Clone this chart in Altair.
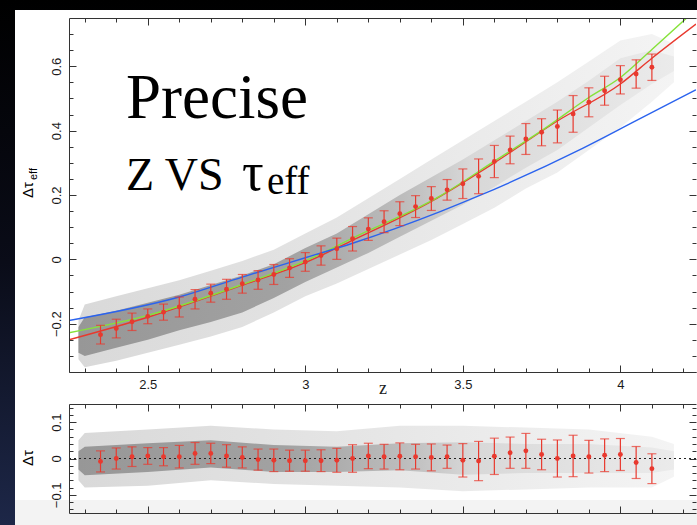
import altair as alt
import pandas as pd

# ---------------- data ----------------
bin_z = [2.35, 2.40, 2.45, 2.50, 2.55, 2.60, 2.65, 2.70, 2.75, 2.80, 2.85, 2.90,
         2.95, 3.00, 3.05, 3.10, 3.15, 3.20, 3.25, 3.30, 3.35, 3.40, 3.45, 3.50,
         3.55, 3.60, 3.65, 3.70, 3.75, 3.80, 3.85, 3.90, 3.95, 4.00, 4.05, 4.10]
bin_tau = [-0.234, -0.215, -0.194, -0.177, -0.164, -0.148, -0.124, -0.105, -0.093,
           -0.076, -0.064, -0.047, -0.027, -0.008, 0.012, 0.033, 0.064, 0.094,
           0.117, 0.142, 0.164, 0.189, 0.216, 0.235, 0.258, 0.304, 0.340, 0.374,
           0.395, 0.413, 0.452, 0.488, 0.524, 0.558, 0.576, 0.597]
bin_err = [0.029, 0.029, 0.027, 0.023, 0.025, 0.031, 0.030, 0.028, 0.031, 0.029,
           0.029, 0.031, 0.029, 0.029, 0.030, 0.033, 0.038, 0.035, 0.034, 0.037,
           0.034, 0.037, 0.032, 0.046, 0.054, 0.050, 0.043, 0.048, 0.042, 0.051,
           0.057, 0.045, 0.045, 0.044, 0.044, 0.041]
res_tau = [-0.008, 0.000, 0.005, 0.007, 0.005, 0.005, 0.014, 0.014, 0.007, 0.003,
           -0.003, -0.005, -0.006, -0.006, -0.006, -0.005, 0.000, 0.007, 0.005,
           0.006, 0.005, 0.003, 0.005, -0.005, -0.007, 0.006, 0.016, 0.021, 0.011,
           0.000, 0.007, 0.005, 0.009, 0.011, -0.011, -0.028]

red_z = [2.25, 2.50, 2.80, 3.00, 3.15, 3.40, 3.60, 3.80, 4.00, 4.10, 4.24]
red_tau = [-0.250, -0.180, -0.080, -0.010, 0.059, 0.180, 0.300, 0.430, 0.545, 0.625, 0.731]
green_z = [2.25, 2.50, 2.80, 3.00, 3.15, 3.43, 3.60, 3.75, 3.90, 4.00, 4.10, 4.21]
green_tau = [-0.228, -0.174, -0.078, -0.005, 0.066, 0.198, 0.305, 0.400, 0.503, 0.565, 0.652, 0.750]
blue_z = [2.25, 2.60, 2.80, 3.00, 3.15, 3.43, 3.55, 3.88, 4.05, 4.24]
blue_tau = [-0.190, -0.117, -0.055, 0.005, 0.050, 0.149, 0.197, 0.345, 0.431, 0.527]

# extent of the cloud of individual measurements (dense core and sparse envelope)
cloud_z = [2.28, 2.30, 2.40, 2.50, 2.60, 2.70, 2.80, 2.90, 3.00, 3.10, 3.20, 3.30,
           3.40, 3.50, 3.60, 3.70, 3.80, 3.90, 4.00, 4.10, 4.17]
core_lo = [-0.29, -0.30, -0.275, -0.25, -0.22, -0.195, -0.165, -0.12, -0.07, -0.025,
           0.02, 0.07, 0.12, 0.17, 0.225, 0.285, 0.34, 0.41, 0.48, 0.545, 0.585]
core_hi = [-0.21, -0.18, -0.16, -0.135, -0.11, -0.08, -0.05, -0.015, 0.035, 0.08,
           0.14, 0.20, 0.255, 0.31, 0.37, 0.43, 0.49, 0.555, 0.625, 0.65, 0.63]
env_lo = [-0.31, -0.335, -0.315, -0.29, -0.265, -0.24, -0.21, -0.165, -0.115, -0.075,
          -0.03, 0.015, 0.06, 0.11, 0.16, 0.22, 0.27, 0.34, 0.41, 0.49, 0.55]
env_hi = [-0.19, -0.14, -0.115, -0.09, -0.065, -0.035, -0.005, 0.03, 0.08, 0.13,
          0.19, 0.25, 0.31, 0.37, 0.43, 0.49, 0.55, 0.615, 0.68, 0.70, 0.67]

rcloud_z = [2.28, 2.30, 2.50, 2.70, 2.90, 3.10, 3.30, 3.50, 3.70, 3.90, 4.10, 4.17]
rcore_lo = [-0.03, -0.046, -0.037, -0.025, -0.037, -0.037, -0.032, -0.045, -0.04, -0.04, -0.04, -0.03]
rcore_hi = [0.02, 0.032, 0.042, 0.05, 0.037, 0.032, 0.042, 0.045, 0.04, 0.04, 0.03, 0.02]
renv_lo = [-0.06, -0.08, -0.075, -0.06, -0.07, -0.075, -0.08, -0.09, -0.085, -0.08, -0.08, -0.05]
renv_hi = [0.05, 0.07, 0.08, 0.09, 0.08, 0.075, 0.09, 0.09, 0.085, 0.08, 0.06, 0.04]

# tick positions
x_major = [2.5, 3.0, 3.5, 4.0]
x_minor = [2.3, 2.4, 2.6, 2.7, 2.8, 2.9, 3.1, 3.2, 3.3, 3.4, 3.6, 3.7, 3.8, 3.9, 4.1, 4.2]
y1_major = [-0.2, 0.0, 0.2, 0.4, 0.6]
y1_minor = [-0.35, -0.3, -0.25, -0.15, -0.1, -0.05, 0.05, 0.1, 0.15, 0.25, 0.3, 0.35,
            0.45, 0.5, 0.55, 0.65, 0.7]
y2_major = [-0.1, 0.0, 0.1]
y2_minor = [-0.14, -0.12, -0.08, -0.06, -0.04, -0.02, 0.02, 0.04, 0.06, 0.08, 0.12, 0.14]

# ---------------- layout / style ----------------
W, H1, H2 = 627, 354, 109
XD, YD1, YD2 = [2.25, 4.24], [-0.35, 0.75], [-0.15, 0.15]
RED, GREEN, BLUE = "#e8392e", "#86e23a", "#2b63ee"
AX = "#333333"
LABEL_FONT = "Liberation Sans"

xs = alt.Scale(domain=XD, nice=False, zero=False)
ys1 = alt.Scale(domain=YD1, nice=False, zero=False)
ys2 = alt.Scale(domain=YD2, nice=False, zero=False)


def tick_axis(orient, values, size, offset, domain=False):
    return alt.Axis(orient=orient, values=values, tickSize=size, offset=offset,
                    domain=domain, labels=False, grid=False, title=None,
                    tickColor=AX, domainColor=AX, tickWidth=1, domainWidth=1, zindex=3)


def label_axis(orient, values, pad, angle=0, **kw):
    return alt.Axis(orient=orient, values=values, ticks=False, tickSize=0, domain=True,
                    domainColor=AX, domainWidth=1, grid=False, labelPadding=pad,
                    labelFont=LABEL_FONT, labelFontSize=13, labelColor="#1a1a1a",
                    labelAngle=angle, format="~g", zindex=3, **kw)


one = pd.DataFrame({"k": [0]})
bins = pd.DataFrame({"z": bin_z, "tau": bin_tau, "err": bin_err, "res": res_tau})
bins["lo"] = bins["tau"] - bins["err"]
bins["hi"] = bins["tau"] + bins["err"]
bins["rlo"] = bins["res"] - bins["err"]
bins["rhi"] = bins["res"] + bins["err"]
cloud = pd.DataFrame({"z": cloud_z, "clo": core_lo, "chi": core_hi, "elo": env_lo, "ehi": env_hi})
rcloud = pd.DataFrame({"z": rcloud_z, "clo": rcore_lo, "chi": rcore_hi, "elo": renv_lo, "ehi": renv_hi})

core_grad = alt.Gradient(gradient="linear", x1=0, x2=1, y1=0, y2=0, stops=[
    alt.GradientStop(color="#979797", offset=0.0),
    alt.GradientStop(color="#a2a2a2", offset=0.35),
    alt.GradientStop(color="#bdbdbd", offset=0.55),
    alt.GradientStop(color="#d8d8d8", offset=0.66),
    alt.GradientStop(color="#ebebeb", offset=1.0)])
env_grad = alt.Gradient(gradient="linear", x1=0, x2=1, y1=0, y2=0, stops=[
    alt.GradientStop(color="#d9d9d9", offset=0.0),
    alt.GradientStop(color="#e6e6e6", offset=0.5),
    alt.GradientStop(color="#f4f4f4", offset=1.0)])
bg_grad = alt.Gradient(gradient="linear", x1=0, x2=0, y1=0, y2=1, stops=[
    alt.GradientStop(color="#000000", offset=0.0),
    alt.GradientStop(color="#0a0c18", offset=0.5),
    alt.GradientStop(color="#1d2748", offset=1.0)])

# ---------------- main panel ----------------
bg = alt.Chart(one).mark_rect(fill=bg_grad).encode(
    x=alt.value(-69), x2=alt.value(628), y=alt.value(-18), y2=alt.value(507))
panel = alt.Chart(one).mark_rect(fill="#ffffff").encode(
    x=alt.value(-54), x2=alt.value(628), y=alt.value(-8), y2=alt.value(482))
strip = alt.Chart(one).mark_rect(fill="#f3f3f3").encode(
    x=alt.value(-54), x2=alt.value(628), y=alt.value(482), y2=alt.value(507))

env = alt.Chart(cloud).mark_area(color=env_grad, interpolate="linear").encode(
    x=alt.X("z:Q", scale=xs, axis=label_axis("bottom", x_major, 6, title="z",
            titleFont="Liberation Serif", titleFontSize=18, titleFontWeight="normal",
            titleColor="#222222", titleY=21, titleBaseline="alphabetic")),
    y=alt.Y("elo:Q", scale=ys1, axis=label_axis("left", y1_major, 9, angle=270,
            labelBaseline="alphabetic", labelAlign="center", title=None)),
    y2="ehi:Q")
core = alt.Chart(cloud).mark_area(color=core_grad, interpolate="linear").encode(
    x=alt.X("z:Q", scale=xs, axis=tick_axis("top", x_major, 7, -H1)),
    y=alt.Y("clo:Q", scale=ys1, axis=tick_axis("right", y1_major, 7, -W)),
    y2="chi:Q")
red_line = alt.Chart(pd.DataFrame({"z": red_z, "t": red_tau})).mark_line(
    color=RED, strokeWidth=1.4, interpolate="monotone", clip=True).encode(
    x=alt.X("z:Q", scale=xs, axis=tick_axis("top", x_minor, 4, -H1)),
    y=alt.Y("t:Q", scale=ys1, axis=tick_axis("right", y1_minor, 4, -W)))
green_line = alt.Chart(pd.DataFrame({"z": green_z, "t": green_tau})).mark_line(
    color=GREEN, strokeWidth=1.4, interpolate="monotone", clip=True).encode(
    x=alt.X("z:Q", scale=xs, axis=tick_axis("bottom", x_major, 7, -H1, domain=True)),
    y=alt.Y("t:Q", scale=ys1, axis=tick_axis("left", y1_major, 7, -W)))
blue_line = alt.Chart(pd.DataFrame({"z": blue_z, "t": blue_tau})).mark_line(
    color=BLUE, strokeWidth=1.4, interpolate="monotone", clip=True).encode(
    x=alt.X("z:Q", scale=xs, axis=tick_axis("bottom", x_minor, 4, -H1)),
    y=alt.Y("t:Q", scale=ys1, axis=tick_axis("left", y1_minor, 4, -W)))

base = alt.Chart(bins)
bars = base.mark_rule(color=RED, strokeWidth=1.2).encode(
    x=alt.X("z:Q", scale=xs, axis=None), y=alt.Y("lo:Q", scale=ys1, axis=None), y2="hi:Q")
cap_lo = base.mark_tick(color=RED, orient="horizontal", size=9, thickness=1.2).encode(
    x=alt.X("z:Q", scale=xs, axis=None), y=alt.Y("lo:Q", scale=ys1, axis=None))
cap_hi = base.mark_tick(color=RED, orient="horizontal", size=9, thickness=1.2).encode(
    x=alt.X("z:Q", scale=xs, axis=None), y=alt.Y("hi:Q", scale=ys1, axis=None))
pts = base.mark_circle(color=RED, size=24, opacity=1).encode(
    x=alt.X("z:Q", scale=xs, axis=None), y=alt.Y("tau:Q", scale=ys1, axis=None))


def label(text, x, y, size, font="Liberation Serif", angle=0, style="normal"):
    return alt.Chart(one).mark_text(text=text, font=font, fontSize=size, align="left",
                                    baseline="alphabetic", color="#000000", angle=angle,
                                    fontStyle=style).encode(
        x=alt.value(x), y=alt.value(y))


texts = [
    label("Precise", 57, 100, 63),
    label("Z VS", 57, 172, 46),
    label("\u03c4", 173, 172, 54),
    label("eff", 198, 176, 39),
    label("\u0394\u03c4", -36, 180, 15, font=LABEL_FONT, angle=270),
    label("eff", -32, 162, 11, font=LABEL_FONT, angle=270),
]

main = alt.layer(bg, panel, strip, env, core, red_line, green_line, blue_line,
                 bars, cap_lo, cap_hi, pts, *texts).resolve_axis(
    x="independent", y="independent").properties(width=W, height=H1)

# ---------------- residual panel ----------------
renv = alt.Chart(rcloud).mark_area(color=env_grad, interpolate="linear").encode(
    x=alt.X("z:Q", scale=xs, axis=alt.Axis(orient="bottom", labels=False, ticks=False,
            domain=True, domainColor=AX, grid=False, title=None, zindex=3)),
    y=alt.Y("elo:Q", scale=ys2, axis=label_axis("left", y2_major, 9, angle=270,
            labelBaseline="alphabetic", labelAlign="center", title=None)),
    y2="ehi:Q")
rcore = alt.Chart(rcloud).mark_area(color=core_grad, interpolate="linear").encode(
    x=alt.X("z:Q", scale=xs, axis=tick_axis("top", x_major, 7, -H2)),
    y=alt.Y("clo:Q", scale=ys2, axis=tick_axis("right", y2_major, 7, -W)),
    y2="chi:Q")
zero = alt.Chart(one).mark_rule(color="#222222", strokeDash=[2, 3], strokeWidth=1).encode(
    x=alt.X(datum=2.25, scale=xs, axis=tick_axis("top", x_minor, 4, -H2)),
    x2=alt.X2(datum=4.24),
    y=alt.Y(datum=0, scale=ys2, axis=tick_axis("right", y2_minor, 4, -W)))
rbase = alt.Chart(bins)
rbars = rbase.mark_rule(color=RED, strokeWidth=1.2).encode(
    x=alt.X("z:Q", scale=xs, axis=tick_axis("bottom", x_major, 7, -H2, domain=True)),
    y=alt.Y("rlo:Q", scale=ys2, axis=tick_axis("left", y2_major, 7, -W)), y2="rhi:Q")
rcap_lo = rbase.mark_tick(color=RED, orient="horizontal", size=9, thickness=1.2).encode(
    x=alt.X("z:Q", scale=xs, axis=tick_axis("bottom", x_minor, 4, -H2)),
    y=alt.Y("rlo:Q", scale=ys2, axis=tick_axis("left", y2_minor, 4, -W)))
rcap_hi = rbase.mark_tick(color=RED, orient="horizontal", size=9, thickness=1.2).encode(
    x=alt.X("z:Q", scale=xs, axis=None), y=alt.Y("rhi:Q", scale=ys2, axis=None))
rpts = rbase.mark_circle(color=RED, size=24, opacity=1).encode(
    x=alt.X("z:Q", scale=xs, axis=None), y=alt.Y("res:Q", scale=ys2, axis=None))
rtitle = label("\u0394\u03c4", -36, 62, 15, font=LABEL_FONT, angle=270)

resid = alt.layer(renv, rcore, zero, rbars, rcap_lo, rcap_hi, rpts, rtitle).resolve_axis(
    x="independent", y="independent").properties(width=W, height=H2)

chart = alt.vconcat(main, resid, spacing=32, bounds="flush").properties(
    background="#000000", padding=0).configure_view(strokeWidth=0)

chart.save("out.html", embed_options={"renderer": "svg", "actions": False})
